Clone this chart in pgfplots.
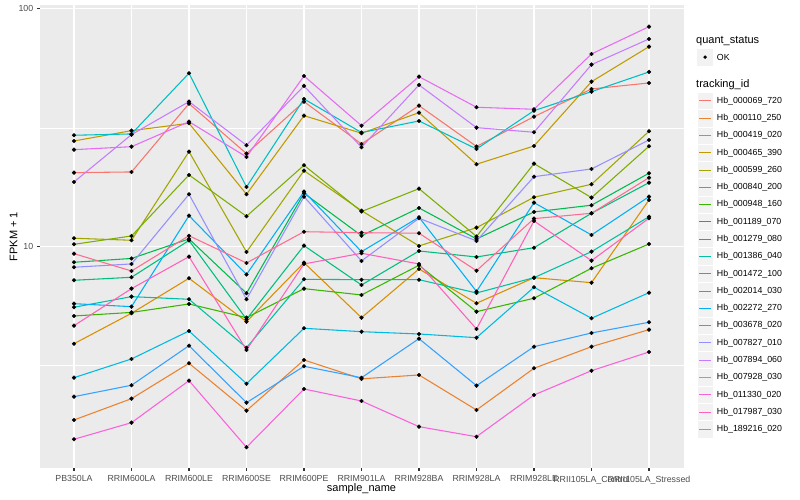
\documentclass[border=0pt]{standalone}
\usepackage{fontspec}
\setmainfont{Liberation Sans}
\usepackage{pgfplots}
\usepackage{pgfplotstable}
\pgfplotsset{compat=1.18}

\definecolor{panel}{HTML}{EBEBEB}
\definecolor{keybg}{HTML}{F2F2F2}
\definecolor{gray20}{HTML}{333333}
\definecolor{gray30}{HTML}{4D4D4D}
\definecolor{c1}{HTML}{F8766D}
\definecolor{c2}{HTML}{EA8331}
\definecolor{c3}{HTML}{D89000}
\definecolor{c4}{HTML}{C09B00}
\definecolor{c5}{HTML}{A3A500}
\definecolor{c6}{HTML}{7CAE00}
\definecolor{c7}{HTML}{39B600}
\definecolor{c8}{HTML}{00BB4E}
\definecolor{c9}{HTML}{00BF7D}
\definecolor{c10}{HTML}{00C1A3}
\definecolor{c11}{HTML}{00BFC4}
\definecolor{c12}{HTML}{00BAE0}
\definecolor{c13}{HTML}{00B0F6}
\definecolor{c14}{HTML}{35A2FF}
\definecolor{c15}{HTML}{9590FF}
\definecolor{c16}{HTML}{C77CFF}
\definecolor{c17}{HTML}{E76BF3}
\definecolor{c18}{HTML}{FA62DB}
\definecolor{c19}{HTML}{FF62BC}
\definecolor{c20}{HTML}{FF6C91}

% FPKM + 1 per sample (rows) and tracking id (columns s1..s20)
\pgfplotstableread{
x  s1    s2    s3    s4    s5    s6    s7    s8    s9    s10   s11   s12   s13   s14   s15   s16   s17   s18   s19   s20
0  20.48 1.866 3.907 27.84 10.85 10.23 5.110 8.598 7.221 5.561 29.42 2.811 5.757 2.339 8.193 18.72 25.59 1.548 4.652 9.345
1  20.62 2.294 5.246 30.76 10.64 11.09 5.290 8.921 7.434 6.163 29.80 3.370 5.593 2.612 8.459 29.60 26.34 1.818 6.659 7.902
2  39.96 3.232 7.363 33.04 25.10 20.03 5.740 10.78 10.62 6.008 53.63 4.419 13.50 3.833 16.61 40.74 33.56 2.731 9.078 11.12
3  24.62 2.042 4.836 16.61 9.500 13.42 5.027 6.368 4.950 3.759 17.83 2.652 7.638 2.207 6.008 26.71 23.84 1.432 3.677 8.541
4  40.74 3.337 8.565 35.57 20.88 22.00 6.659 16.77 10.10 7.292 41.82 4.535 17.04 3.139 16.23 47.44 52.25 2.519 8.459 11.56
5  27.04 2.780 5.027 30.00 14.17 14.05 6.264 11.12 6.900 7.263 30.20 4.389 9.528 2.810 8.708 26.19 32.28 2.243 9.381 11.45
6  39.20 2.886 8.057 36.62 10.07 17.54 8.351 14.55 9.590 7.263 33.79 4.292 13.30 4.102 13.17 47.90 51.90 1.749 8.459 11.39
7  26.40 2.056 5.779 22.22 12.02 11.04 5.328 10.78 9.050 6.386 25.76 4.141 6.479 2.602 10.57 31.67 38.59 1.587 4.505 7.925
8  35.23 3.079 7.405 26.52 16.14 22.35 6.067 14.00 9.900 7.405 37.34 6.750 15.32 3.796 19.70 30.29 37.84 2.377 12.83 13.12
9  46.07 3.796 7.056 49.44 18.30 16.08 8.112 14.94 13.82 9.528 44.88 4.998 11.20 4.335 21.23 58.31 64.67 3.008 8.733 13.82
10 48.83 4.476 15.72 69.40 30.58 26.45 10.26 20.37 18.59 13.37 54.33 6.404 16.23 4.808 28.11 74.79 84.22 3.606 13.17 19.51
}\fpkm

\begin{document}
\begin{tikzpicture}
\begin{axis}[
  at={(39.5bp,32bp)}, anchor=south west,
  width=644bp, height=463bp, scale only axis,
  xmin=-0.6, xmax=10.6,
  ymode=log, ymin=1.172, ymax=103.9,
  xtick={0,...,10},
  xticklabels={PB350LA,RRIM600LA,RRIM600LE,RRIM600SE,RRIM600PE,RRIM901LA,RRIM928BA,RRIM928LA,RRIM928LE,RRII105LA\_Control,RRII105LA\_Stressed},
  ytick={10,100}, yticklabels={10,100},
  minor ytick={3.1623,31.623},
  xtick pos=left, ytick pos=left,
  axis background/.style={fill=panel},
  axis line style={draw=none},
  xmajorgrids, ymajorgrids, yminorgrids,
  major grid style={white, line width=1.07bp},
  minor grid style={white, line width=0.53bp},
  tick align=outside, major tick length=2.75bp, minor tick length=0pt,
  tick style={color=gray20, line width=1.07bp},
  ticklabel style={font=\fontsize{8.8bp}{10bp}\selectfont, text=gray30},
  xticklabel style={yshift=-1.5bp},
  xlabel={sample\_name}, ylabel={FPKM + 1},
  label style={font=\fontsize{11bp}{13bp}\selectfont},
  xlabel style={at={(axis description cs:0.5,-0.0443)}, anchor=center},
  ylabel style={at={(axis description cs:-0.0401,0.5)}, anchor=center},
]
\pgfplotsinvokeforeach{1,...,20}{
  \addplot[draw=c#1, line width=1.07bp, mark=none] table[x=x, y=s#1] {\fpkm};
}
\pgfplotsinvokeforeach{1,...,20}{
  \addplot[only marks, mark=*, mark size=1.9bp, black] table[x=x, y=s#1] {\fpkm};
}
\end{axis}

% legend
\node[anchor=west, inner sep=0pt, font=\fontsize{11bp}{13bp}\selectfont] at (696bp,459.3bp) {quant\_status};
\fill[keybg] (697.3bp,434.2bp) rectangle (713bp,451.4bp);
\fill[black] (705.1bp,442.8bp) circle (1.9bp);
\node[anchor=west, inner sep=0pt, font=\fontsize{8.8bp}{10bp}\selectfont] at (716.7bp,442.8bp) {OK};

\node[anchor=west, inner sep=0pt, font=\fontsize{11bp}{13bp}\selectfont] at (696bp,415.7bp) {tracking\_id};
\foreach \i/\lab in {1/Hb\_000069\_720,2/Hb\_000110\_250,3/Hb\_000419\_020,4/Hb\_000465\_390,5/Hb\_000599\_260,
  6/Hb\_000840\_200,7/Hb\_000948\_160,8/Hb\_001189\_070,9/Hb\_001279\_080,10/Hb\_001386\_040,
  11/Hb\_001472\_100,12/Hb\_002014\_030,13/Hb\_002272\_270,14/Hb\_003678\_020,15/Hb\_007827\_010,
  16/Hb\_007894\_060,17/Hb\_007928\_030,18/Hb\_011330\_020,19/Hb\_017987\_030,20/Hb\_189216\_020} {
  \pgfmathsetmacro{\yb}{399-(\i-1)*17.28}
  \pgfmathsetmacro{\yc}{floor(\yb)+0.5}
  \filldraw[fill=keybg, draw=white, line width=0.8bp] (697.3bp,\yb bp-8.64bp) rectangle (713bp,\yb bp+8.64bp);
  \draw[draw=c\i, line width=1.07bp] (699bp,\yc bp) -- (711.3bp,\yc bp);
  \node[anchor=west, inner sep=0pt, font=\fontsize{8.8bp}{10bp}\selectfont] at (716.7bp,\yb bp) {\lab};
}
\pgfresetboundingbox
\useasboundingbox (0,0) rectangle (800bp,500bp);
\end{tikzpicture}
\end{document}
